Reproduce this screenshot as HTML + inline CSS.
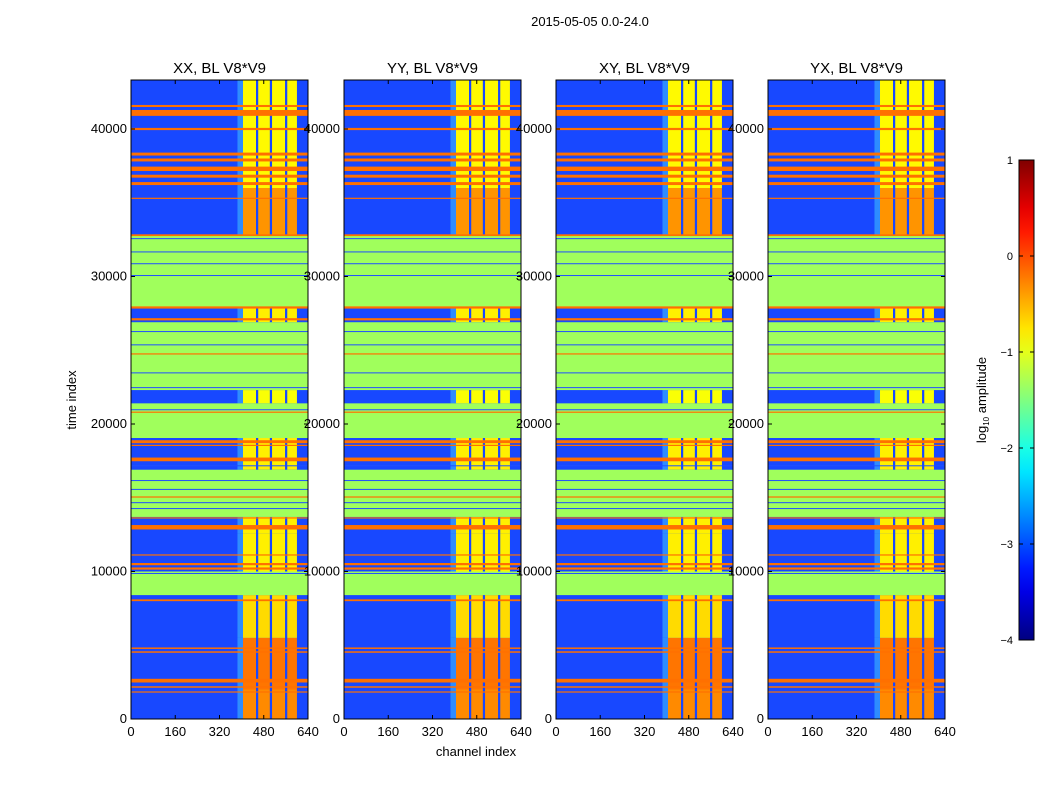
<!DOCTYPE html>
<html><head><meta charset="utf-8"><style>
body{margin:0;background:#fff;}
svg{display:block;font-family:"Liberation Sans",sans-serif;}
</style></head><body>
<svg id="fig" width="1050" height="800" viewBox="0 0 1050 800">
<text x="590" y="26" font-size="13" text-anchor="middle">2015-05-05 0.0-24.0</text>
<text x="476" y="756" font-size="13" text-anchor="middle">channel index</text>
<text transform="translate(76,400) rotate(-90)" font-size="13" text-anchor="middle">time index</text>
<g id="panels"></g>
<g id="cbar"></g>
</svg>
<script>
const panelTitles = ["XX, BL V8*V9","YY, BL V8*V9","XY, BL V8*V9","YX, BL V8*V9"];
const yTicks = [0,10000,20000,30000,40000];
const xTicks = [0,160,320,480,640];
const cbTicks = [1,0,-1,-2,-3,-4];
// noise segments: [tStart, tEnd, activeLevel(log10)]
const noiseSegs = [[0,2000,-0.3],[2000,5500,-0.2],[5500,8400,-0.7],[10000,12600,-0.8],[12600,13700,-0.8],[16900,19050,-0.8],[21400,22300,-0.9],[26900,27900,-0.8],[32800,36000,-0.35],[36000,43300,-0.85]];
// flagged segments: [tStart, tEnd]
const flagSegs = [[8400,10000],[13700,16900],[19050,21400],[22300,26900],[27900,32800]];
// orange lines: [time, thickness]
const orangeLines = [[41560,140],[41090,400],[40000,150],[38300,200],[37900,200],[37300,300],[36800,200],[36300,200],[35300,80],[32800,120],[27900,150],[27100,150],[24750,80],[20800,80],[18800,200],[18550,80],[17600,250],[15050,80],[13630,80],[13000,300],[11120,80],[10500,150],[10200,150],[8050,120],[4800,100],[4540,100],[2600,250],[2170,100],[1830,80]];
// thin dark-blue lines in flagged zones
const blueLines = [32600,31700,30900,30100,26300,25400,23500,22500,21000,17200,16200,15600,14700,14300,9900];
// active channel blocks [chStart, chEnd]
const activeCols = [[405,452],[460,502],[510,557],[565,600]];
const panelX = [131,344,556,768];

const NS="http://www.w3.org/2000/svg";
function jet(v){
  let f=(v+4)/5; f=Math.max(0,Math.min(1,f));
  const c=x=>Math.max(0,Math.min(1,x));
  const r=c(1.5-Math.abs(4*f-3)), g=c(1.5-Math.abs(4*f-2)), b=c(1.5-Math.abs(4*f-1));
  return `rgb(${Math.round(r*255)},${Math.round(g*255)},${Math.round(b*255)})`;
}
const W=177, Y0=719, PX=0.01475, TMAX=43322;
const yS=t=>Y0-t*PX;
function mk(tag,attrs,parent){const e=document.createElementNS(NS,tag);for(const k in attrs)e.setAttribute(k,attrs[k]);parent.appendChild(e);return e;}
const panels=document.getElementById('panels');
panelX.forEach((x0,pi)=>{
  const xS=ch=>x0+ch/640*W;
  const g=mk('g',{},panels);
  
  
  const base=mk('rect',{x:x0,y:yS(TMAX),width:W,height:TMAX*PX,fill:'#1848ff'},g);
  
  
  noiseSegs.forEach(s=>{
    const y1=yS(s[1]),h=(s[1]-s[0])*PX;
    const e=mk('rect',{x:xS(385),y:y1,width:xS(405)-xS(385),height:h,fill:'#2e8cff'},g);
    
    
    activeCols.forEach(c=>{
      const r=mk('rect',{x:xS(c[0]),y:y1,width:xS(c[1])-xS(c[0]),height:h,fill:jet(s[2])},g);
      
      
    });
  });
  flagSegs.forEach(s=>{
    const r=mk('rect',{x:x0,y:yS(s[1]),width:W,height:(s[1]-s[0])*PX,fill:'#a0ff5c'},g);
    
    
  });
  blueLines.forEach(t=>{
    const r=mk('rect',{x:x0,y:yS(t),width:W,height:1,fill:'#2050ff'},g);
    
    
  });
  orangeLines.forEach(l=>{
    const h=Math.max(1.2,l[1]*PX);
    const r=mk('rect',{x:x0,y:yS(l[0])-h/2,width:W,height:h,fill:'#ff7000'},g);
    
    
  });
  const fr=mk('rect',{x:x0,y:80,width:W,height:639,fill:'none',stroke:'#000','stroke-width':1},g);
  
  
  const tt=mk('text',{x:x0+W/2,y:73,'font-size':15,'text-anchor':'middle'},g);
  tt.textContent=panelTitles[pi];
  
  
  yTicks.forEach(t=>{
    const y=yS(t);
    mk('line',{x1:x0,x2:x0+4,y1:y,y2:y,stroke:'#000'},g);
    mk('line',{x1:x0+W-4,x2:x0+W,y1:y,y2:y,stroke:'#000'},g);
    const lb=mk('text',{x:x0-4,y:y+4,'font-size':13,'text-anchor':'end'},g);
    lb.textContent=t;
    
    
  });
  xTicks.forEach(c=>{
    const x=xS(c);
    mk('line',{x1:x,x2:x,y1:719,y2:715,stroke:'#000'},g);
    mk('line',{x1:x,x2:x,y1:80,y2:84,stroke:'#000'},g);
    const lb=mk('text',{x:x,y:736,'font-size':13,'text-anchor':'middle'},g);
    lb.textContent=c;
    
    
  });
});
const cb=document.getElementById('cbar');


const defs=mk('defs',{},cb);
const lg=mk('linearGradient',{id:'jetg',x1:0,y1:1,x2:0,y2:0},defs);
for(let i=0;i<=20;i++){mk('stop',{offset:i/20,'stop-color':jet(-4+5*i/20)},lg);}
const cbY=v=>640-(v+4)*96;
mk('rect',{x:1019,y:160,width:15,height:480,fill:'url(#jetg)',stroke:'#000'},cb);
cbTicks.forEach(v=>{
  const y=cbY(v);
  mk('line',{x1:1019,x2:1023,y1:y,y2:y,stroke:'#000'},cb);
  mk('line',{x1:1030,x2:1034,y1:y,y2:y,stroke:'#000'},cb);
  const lb=mk('text',{x:1013,y:y+4,'font-size':11,'text-anchor':'end'},cb);
  lb.textContent=v<0?'\u2212'+(-v):String(v);
  
  
});
const cl=mk('text',{transform:'translate(986,400) rotate(-90)','font-size':13,'text-anchor':'middle'},cb);
cl.innerHTML='log<tspan font-size="8" dy="3">10</tspan><tspan dy="-3"> amplitude</tspan>';


</script>
</body></html>
